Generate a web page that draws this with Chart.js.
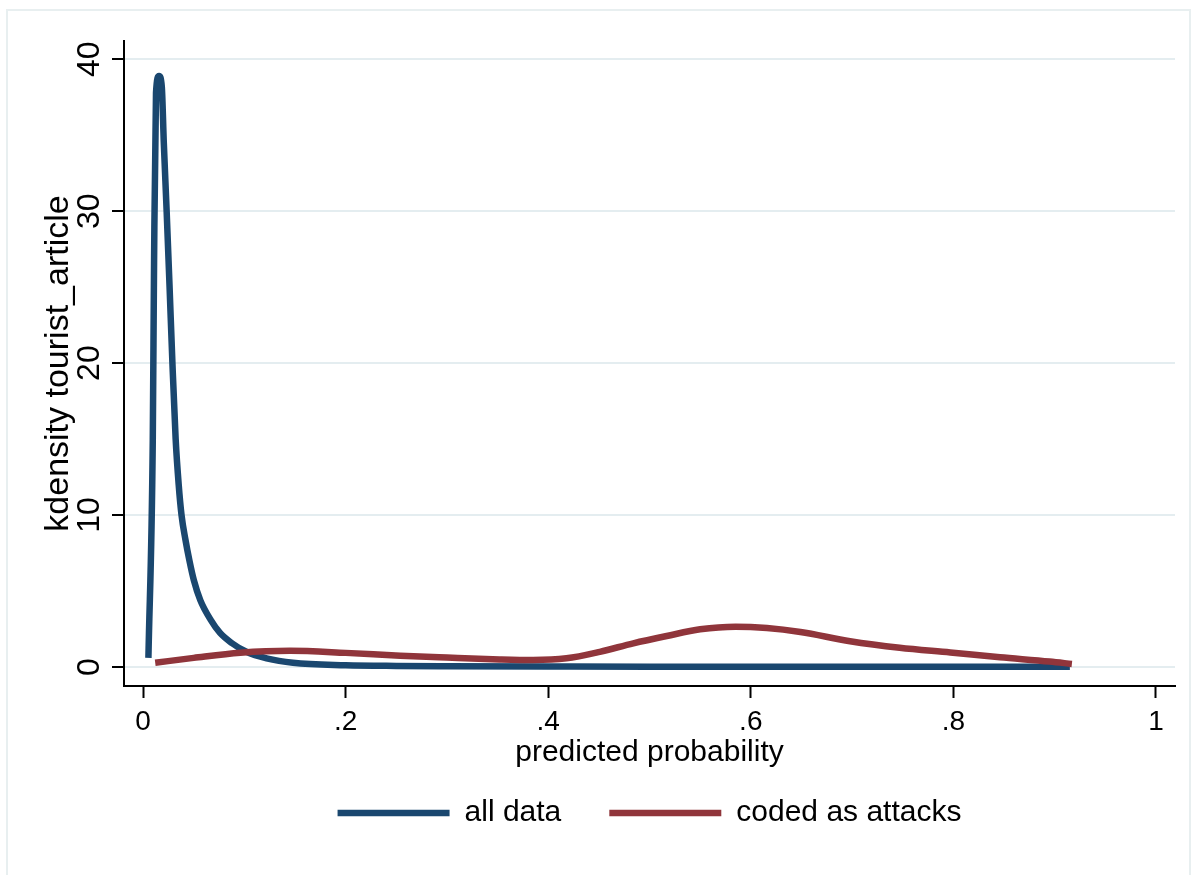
<!DOCTYPE html>
<html lang="en">
<head>
    <meta charset="UTF-8">
    <title>kdensity tourist_article</title>
    <style>
        body {
            margin: 0;
            background: #fff;
            overflow: hidden;
        }
        .frame {
            position: absolute;
            left: 6px;
            top: 9px;
            width: 1181px;
            height: 880px;
            border: 2px solid #e8eff0;
        }
        canvas {
            position: absolute;
            left: 0;
            top: 0;
        }
    </style>
</head>
<body>
    <div class="frame"></div>
    <canvas id="myChart" width="1196" height="875"></canvas>
    <script src="https://cdn.jsdelivr.net/npm/chart.js@4.4.0/dist/chart.umd.min.js"></script>
    <script>
        // axis ticks
        const xTicks = [0, 0.2, 0.4, 0.6, 0.8, 1];
        const xTickLabels = ['0', '.2', '.4', '.6', '.8', '1'];
        const yTicks = [0, 10, 20, 30, 40];

        // kdensity, all data
        const allDataX = [0.0053, 0.0096, 0.0109, 0.0128, 0.0158, 0.0185, 0.0205, 0.0233, 0.0262, 0.029, 0.0322,
            0.0352, 0.038, 0.0418, 0.0458, 0.0502, 0.0565, 0.0668, 0.076, 0.0875, 0.102, 0.122, 0.148, 0.2, 0.25,
            0.3, 0.4, 0.5, 0.6, 0.7, 0.8, 0.915];
        const allDataY = [0.6, 14.9, 26.8, 37.8, 38.9, 38.2, 34.5, 30, 25, 20, 15,
            12, 10, 8.4, 7.0, 5.7, 4.4, 3.1, 2.24, 1.58, 1.0, 0.57, 0.28, 0.12, 0.07,
            0.05, 0.03, 0.02, 0.02, 0.02, 0.02, 0.02];

        // kdensity, coded as attacks
        const attacksX = [0.012, 0.05, 0.096, 0.145, 0.2, 0.254, 0.3, 0.352, 0.385, 0.418, 0.451, 0.484, 0.517,
            0.55, 0.585, 0.616, 0.649, 0.698, 0.747, 0.797, 0.846, 0.895, 0.917];
        const attacksY = [0.28, 0.6, 0.94, 1.07, 0.93, 0.74, 0.62, 0.5, 0.46, 0.57, 1.0, 1.56, 2.04,
            2.48, 2.65, 2.56, 2.3, 1.7, 1.27, 0.96, 0.64, 0.36, 0.2];

        const font = 'Liberation Sans, Arial, sans-serif';
        const toPoints = (xs, ys) => xs.map((x, i) => ({x: x, y: ys[i]}));

        const data = {
            datasets: [{
                label: 'all data',
                data: toPoints(allDataX, allDataY),
                borderColor: '#1a476f',
                backgroundColor: '#1a476f',
                borderWidth: 6.5,
                pointRadius: 0,
                cubicInterpolationMode: 'monotone',
                order: 1
            },
            {
                label: 'coded as attacks',
                data: toPoints(attacksX, attacksY),
                borderColor: '#90353b',
                backgroundColor: '#90353b',
                borderWidth: 6.5,
                pointRadius: 0,
                cubicInterpolationMode: 'monotone',
                order: 0
            }]
        };

        const ctx = document.getElementById('myChart').getContext('2d');
        const myChart = new Chart(ctx, {
            type: 'line',
            data: data,
            options: {
                responsive: false,
                animation: false,
                layout: {
                    padding: {left: 0, top: 41, right: 21, bottom: 37}
                },
                plugins: {
                    tooltip: {enabled: false},
                    legend: {
                        position: 'bottom',
                        fullSize: false,
                        labels: {
                            usePointStyle: true,
                            pointStyle: 'line',
                            pointStyleWidth: 112,
                            boxHeight: 6,
                            padding: 48,
                            color: '#000',
                            font: {family: font, size: 30},
                            sort: (a, b) => a.datasetIndex - b.datasetIndex
                        }
                    }
                },
                scales: {
                    x: {
                        type: 'linear',
                        min: -0.0188,
                        max: 1.0188,
                        afterBuildTicks: (scale) => {
                            scale.ticks = xTicks.map(v => ({value: v}));
                        },
                        afterFit: (scale) => {
                            scale.height = 64;
                        },
                        ticks: {
                            color: '#000',
                            padding: 7,
                            maxRotation: 0,
                            font: {family: font, size: 28},
                            callback: (value) => xTickLabels[xTicks.indexOf(value)]
                        },
                        grid: {
                            drawOnChartArea: false,
                            tickColor: '#000',
                            tickLength: 12,
                            tickWidth: 2
                        },
                        border: {color: '#000', width: 2},
                        title: {
                            display: true,
                            text: 'predicted probability',
                            color: '#000',
                            font: {family: font, size: 30},
                            padding: {top: 0, bottom: -21}
                        }
                    },
                    y: {
                        min: -1.25,
                        max: 41.2,
                        afterBuildTicks: (scale) => {
                            scale.ticks = yTicks.map(v => ({value: v}));
                        },
                        afterFit: (scale) => {
                            scale.width = 124;
                        },
                        ticks: {
                            color: '#000',
                            padding: 4,
                            minRotation: 90,
                            maxRotation: 90,
                            crossAlign: 'center',
                            font: {family: font, size: 32}
                        },
                        grid: {
                            color: '#e4edf0',
                            lineWidth: 2,
                            tickColor: '#000',
                            tickLength: 12,
                            tickWidth: 2
                        },
                        border: {color: '#000', width: 2},
                        title: {
                            display: true,
                            text: 'kdensity tourist_article',
                            color: '#000',
                            font: {family: font, size: 34},
                            padding: {top: 38, bottom: 0}
                        }
                    }
                }
            }
        });
    </script>
</body>
</html>
